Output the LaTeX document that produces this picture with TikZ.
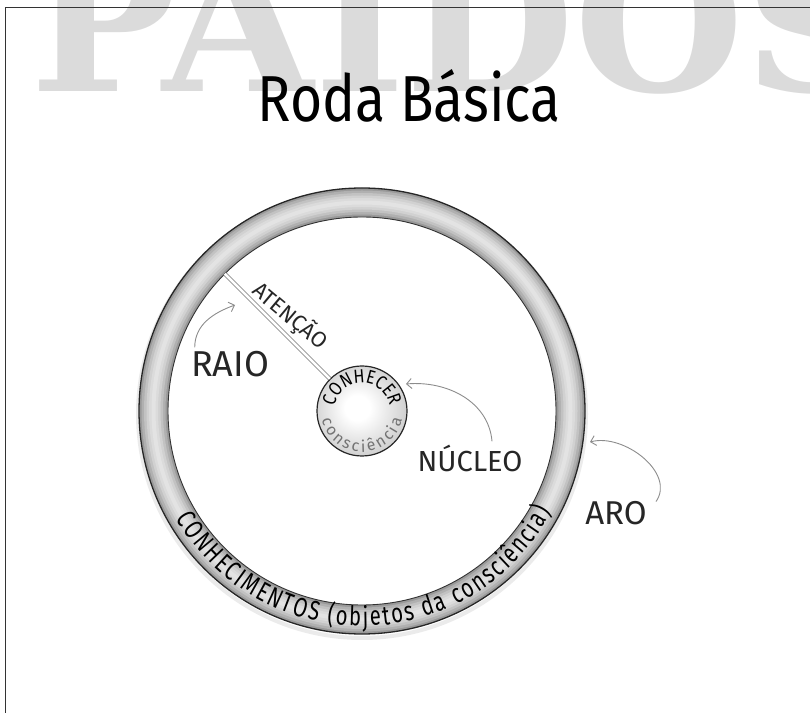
\documentclass[tikz,border=0pt]{standalone}
\usepackage{fontspec}
\usepackage{tikz}
\usetikzlibrary{arrows.meta, decorations.text, positioning}
\newfontfamily\handfont{Fira Sans}
\newfontfamily\narrowfont{Fira Sans}[FakeStretch=0.85]
\newfontfamily\ringfont{Fira Sans}[FakeStretch=0.75]
\newfontfamily\markfont{DejaVu Serif}
\pgfdeclareradialshading{hubglow}{\pgfpoint{-3bp}{2bp}}{color(0bp)=(white); color(7bp)=(white); color(30bp)=(black!22); color(50bp)=(black!38)}

\begin{document}
\begin{tikzpicture}[x=1pt, y=1pt, semithick,
    handtext/.style={font=\handfont\fontsize{#1}{#1}\selectfont, text=black!85, inner sep=0pt},
    pointer/.style={-{Straight Barb[length=5pt, width=10pt]}, black!45, line width=0.9pt},
    spoke/.style={draw=black!55, double=white, double distance=2.8pt, line width=0.7pt}]
  \useasboundingbox (0,0) rectangle (810,712);
  % watermark and frame
  \node[anchor=base west, inner sep=0pt, text=black!14, font=\markfont\bfseries\fontsize{195}{195}\selectfont] (mark) at (30,620) {PAIDOS};
  \draw[black!80, line width=1pt] (5,-5) -- (5,704) -- (815,704);
  \node[handtext=65, text=black, anchor=base] (title) at (409,590) {\narrowfont Roda Básica};

  % rim
  \coordinate (c) at (362,301);
  \draw[black!8, line width=4pt] ([yshift=-3pt]c) circle (224);
  \foreach \w/\g in {29/40, 24/31, 19/24, 14/18, 9/14, 4/11}
    \draw[line width=\w pt, black!\g] (c) circle (208.5);
  \draw[line width=1.3pt, black!85] (c) circle (223);
  \draw[line width=0.9pt, black!80] (c) circle (194);
  \path[decorate, decoration={text along path, text align=fit to path,
      text={|\ringfont\fontsize{27}{27}\selectfont|CONHECIMENTOS (objetos da consciência)}}]
    (c) ++(210:215) arc[start angle=210, end angle=332, radius=215];

  % hub and spoke
  \node[circle, minimum size=90pt, inner sep=0pt, draw=black!85, line width=1.2pt, shade, shading=hubglow] (hub) at (c) {};
  \path[decorate, decoration={text along path, text align=center,
      text={|\narrowfont\fontsize{19}{19}\selectfont|CONHECER}}]
    (hub.center) ++(180:28) arc[start angle=180, end angle=0, radius=28];
  \path[decorate, decoration={text along path, text align=fit to path, text color=black!55,
      text={|\handfont\fontsize{16}{16}\selectfont|consciência}}]
    (hub.center) ++(192:41) arc[start angle=192, end angle=348, radius=41];
  \path (c) ++(135:194) coordinate (spokeA);
  \draw[spoke] (spokeA) -- (hub.135);
  \node[handtext=22, rotate=-40] (atencao) at (290,396) {ATENÇÃO};

  % labels
  \node[handtext=36, anchor=base] (raio) at (230,335) {RAIO};
  \node[handtext=29, anchor=base] (nucleo) at (470,240) {NÚCLEO};
  \node[handtext=33, anchor=base] (aro) at (616,187) {ARO};
  \coordinate (raiotip) at (235,407);
  \coordinate (nucleotip) at (406,328);
  \coordinate (arotip) at (590,270);
  \path[pointer] ([xshift=4pt, yshift=4pt]raio.north west) edge[out=90, in=200] (raiotip)
      ([xshift=22pt, yshift=4pt]nucleo.north) edge[out=95, in=5] (nucleotip)
      ([xshift=9pt]aro.north east) edge[out=55, in=15] (arotip);
\end{tikzpicture}
\end{document}
